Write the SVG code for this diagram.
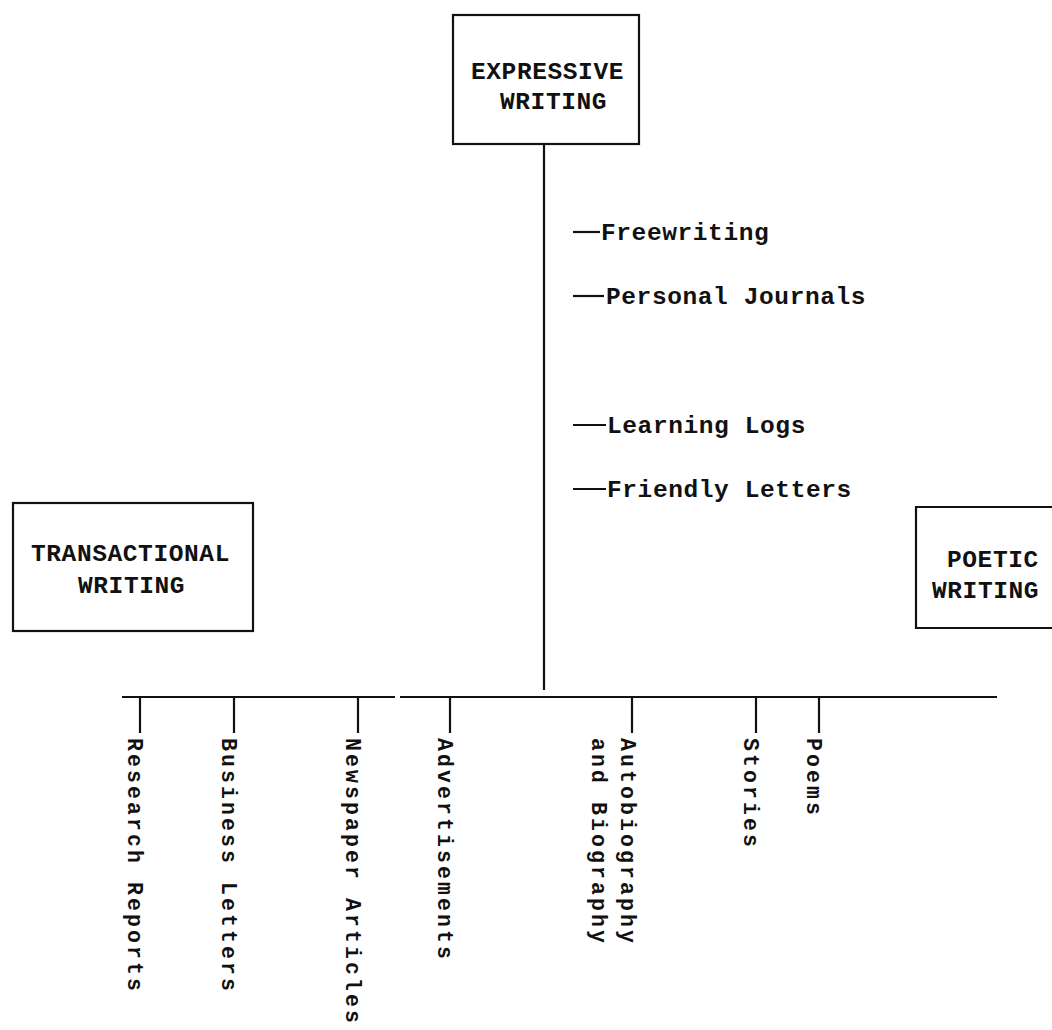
<svg xmlns="http://www.w3.org/2000/svg" width="1052" height="1030" viewBox="0 0 1052 1030">
<style>
  .box { fill: none; stroke: #111; stroke-width: 2.2; }
  .ln { stroke: #111; stroke-width: 2.2; fill: none; }
  .t { font-family: "Liberation Mono", "DejaVu Sans Mono", monospace; font-size: 24.5px; font-weight: bold; letter-spacing: 0.6px; fill: #111; }
  .v { font-family: "Liberation Mono", "DejaVu Sans Mono", monospace; font-size: 21.5px; font-weight: bold; letter-spacing: 3.1px; fill: #111; }
</style>
<rect width="1052" height="1030" fill="#fff"/>
<g id="expressive">
  <rect class="box" x="453" y="15" width="186" height="129"/>
  <text class="t" x="471" y="79">EXPRESSIVE</text>
  <text class="t" x="500" y="109">WRITING</text>
</g>
<g id="transactional">
  <rect class="box" x="13" y="503" width="240" height="128"/>
  <text class="t" x="31" y="561">TRANSACTIONAL</text>
  <text class="t" x="78" y="593">WRITING</text>
</g>
<g id="poetic">
  <path class="box" d="M1052 507 H916 V628 H1052"/>
  <text class="t" x="947" y="567">POETIC</text>
  <text class="t" x="932" y="598">WRITING</text>
</g>
<g id="connectors">
  <line class="ln" x1="544" y1="144" x2="544" y2="690"/>
  <line class="ln" x1="122" y1="697" x2="395" y2="697"/>
  <line class="ln" x1="400" y1="697" x2="997" y2="697"/>
  <line class="ln" x1="573" y1="232" x2="600" y2="232"/>
  <line class="ln" x1="573" y1="296" x2="604" y2="296"/>
  <line class="ln" x1="573" y1="425" x2="606" y2="425"/>
  <line class="ln" x1="573" y1="489" x2="606" y2="489"/>
  <line class="ln" x1="140" y1="697" x2="140" y2="733"/>
  <line class="ln" x1="234" y1="697" x2="234" y2="733"/>
  <line class="ln" x1="358" y1="697" x2="358" y2="733"/>
  <line class="ln" x1="450" y1="697" x2="450" y2="733"/>
  <line class="ln" x1="632" y1="697" x2="632" y2="733"/>
  <line class="ln" x1="756" y1="697" x2="756" y2="733"/>
  <line class="ln" x1="819" y1="697" x2="819" y2="733"/>
</g>
<g id="expressive-items">
  <text class="t" x="601" y="240">Freewriting</text>
  <text class="t" x="606" y="304">Personal Journals</text>
  <text class="t" x="607" y="433">Learning Logs</text>
  <text class="t" x="607" y="497">Friendly Letters</text>
</g>
<g id="research"><text class="v" transform="translate(128,738) rotate(90)">Research Reports</text></g>
<g id="business"><text class="v" transform="translate(222,738) rotate(90)">Business Letters</text></g>
<g id="newspaper"><text class="v" transform="translate(346,738) rotate(90)">Newspaper Articles</text></g>
<g id="advertisements"><text class="v" transform="translate(438,738) rotate(90)">Advertisements</text></g>
<g id="autobiography">
  <text class="v" transform="translate(621,738) rotate(90)">Autobiography</text>
  <text class="v" transform="translate(592,738) rotate(90)">and Biography</text>
</g>
<g id="stories"><text class="v" transform="translate(744,738) rotate(90)">Stories</text></g>
<g id="poems"><text class="v" transform="translate(807,738) rotate(90)">Poems</text></g>
</svg>
